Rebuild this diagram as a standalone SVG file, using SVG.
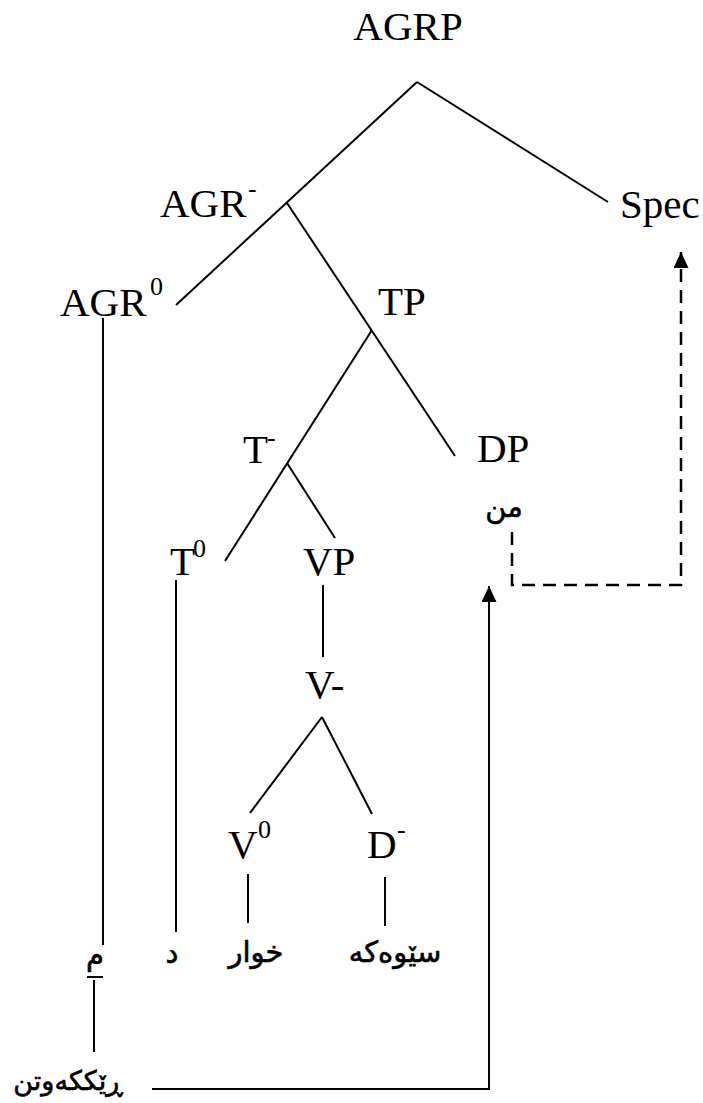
<svg xmlns="http://www.w3.org/2000/svg" width="703" height="1103" viewBox="0 0 703 1103">
<style>
.lab{font-family:"Liberation Serif","Times New Roman",serif;font-size:41px;fill:#000}
.sup{font-family:"Liberation Serif","Times New Roman",serif;font-size:26px;fill:#000}
.ku{font-family:"DejaVu Sans","Noto Sans",sans-serif;font-size:29px;fill:#000;stroke:#000;stroke-width:0.6}
.ln{stroke:#000;stroke-width:2;fill:none}
.dash{stroke:#000;stroke-width:2.5;fill:none;stroke-dasharray:13 8}
</style>
<defs>
<marker id="arr" markerUnits="userSpaceOnUse" markerWidth="16" markerHeight="15" refX="16" refY="7.5" orient="auto">
<path d="M0,0 L16,7.5 L0,15 Z" fill="#000" stroke="none"/>
</marker>
</defs>
<rect width="703" height="1103" fill="#fff"/>
<g id="connectors">
<line class="ln" x1="417" y1="82" x2="176" y2="305"/>
<line class="ln" x1="417" y1="82" x2="608" y2="202"/>
<line class="ln" x1="287" y1="203" x2="455" y2="456"/>
<line class="ln" x1="372" y1="330" x2="225" y2="561"/>
<line class="ln" x1="287" y1="463" x2="335" y2="538"/>
<line class="ln" x1="103" y1="318" x2="103" y2="945"/>
<line class="ln" x1="176" y1="580" x2="176" y2="932"/>
<line class="ln" x1="323" y1="585" x2="323" y2="657"/>
<line class="ln" x1="322" y1="717" x2="250" y2="813"/>
<line class="ln" x1="322" y1="717" x2="372" y2="814"/>
<line class="ln" x1="248" y1="874" x2="248" y2="923"/>
<line class="ln" x1="385" y1="877" x2="385" y2="926"/>
<line class="ln" x1="87" y1="977" x2="103" y2="977"/>
<line class="ln" x1="94" y1="980" x2="94" y2="1052"/>
<polyline class="ln" points="152,1089 489,1089 489,586" marker-end="url(#arr)"/>
<polyline class="dash" points="512,532 512,585 681,585 681,252" marker-end="url(#arr)"/>
</g>
<g id="AGRP"><text class="lab" x="408" y="40" text-anchor="middle">AGRP</text></g>
<g id="Spec"><text class="lab" x="620" y="218">Spec</text></g>
<g id="AGR-bar"><text class="lab" x="160" y="217">AGR</text><text class="sup" x="248" y="197">-</text></g>
<g id="AGR0"><text class="lab" x="60" y="316">AGR</text><text class="sup" x="150" y="295">0</text></g>
<g id="TP"><text class="lab" x="378" y="315">TP</text></g>
<g id="T-bar"><text class="lab" x="243" y="463">T</text><text class="sup" x="267" y="446">-</text></g>
<g id="DP"><text class="lab" x="477" y="462">DP</text></g>
<g id="min"><text class="ku" x="504" y="517" text-anchor="middle">من</text></g>
<g id="T0"><text class="lab" x="170" y="575">T</text><text class="sup" x="193" y="557">0</text></g>
<g id="VP"><text class="lab" x="303" y="575">VP</text></g>
<g id="V-bar"><text class="lab" x="305" y="698">V-</text></g>
<g id="V0"><text class="lab" x="228" y="858">V</text><text class="sup" x="258" y="838">0</text></g>
<g id="D-bar"><text class="lab" x="367" y="858">D</text><text class="sup" x="397" y="838">-</text></g>
<g id="m"><text class="ku" x="95" y="965" text-anchor="middle">م</text></g>
<g id="d"><text class="ku" x="172" y="963" text-anchor="middle">د</text></g>
<g id="khwar"><text class="ku" x="256" y="962" text-anchor="middle">خوار</text></g>
<g id="sewaka"><text class="ku" x="395" y="962" text-anchor="middle">سێوەکە</text></g>
<g id="rekkawtin"><text class="ku" x="68" y="1090" text-anchor="middle" style="font-size:27px">ڕێککەوتن</text></g>
</svg>
